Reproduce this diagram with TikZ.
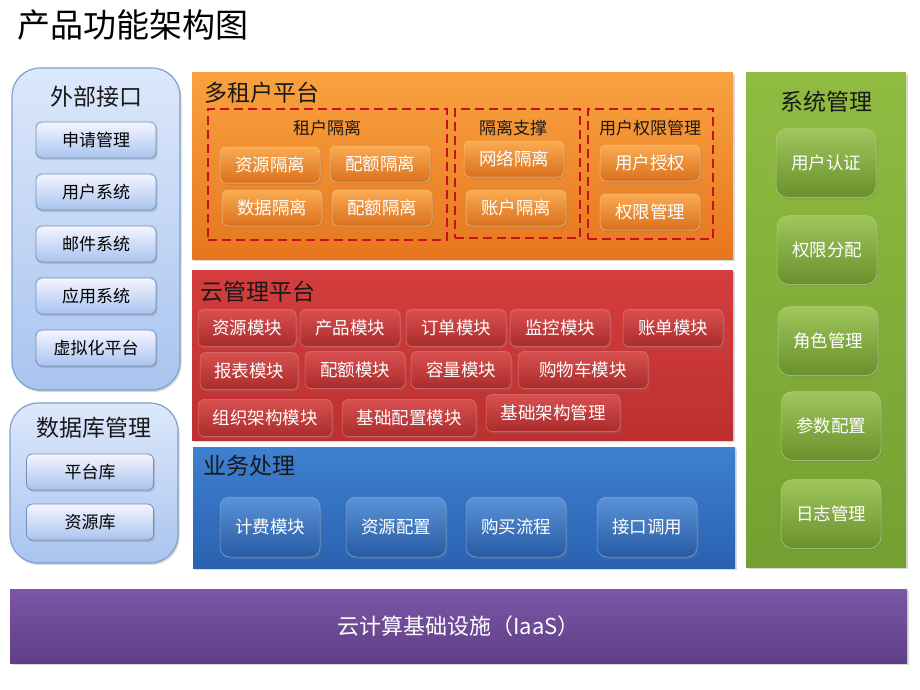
\documentclass[tikz,border=0pt]{standalone}
\usepackage{fontspec}
\setmainfont{Noto Sans CJK SC}
\usepackage{xcolor}
\usepackage{tikz}
\usetikzlibrary{shadows,positioning}

\definecolor{lbTop}{HTML}{DCE8FB}
\definecolor{lbBot}{HTML}{A9C4EF}
\definecolor{lbLine}{HTML}{7F9FCF}
\definecolor{orTop}{HTML}{F9A23F}
\definecolor{orBot}{HTML}{E6761F}
\definecolor{rdTop}{HTML}{D43D3D}
\definecolor{rdBot}{HTML}{BD3030}
\definecolor{buTop}{HTML}{3F80D0}
\definecolor{buBot}{HTML}{2A62B1}
\definecolor{gnTop}{HTML}{8FBC40}
\definecolor{gnBot}{HTML}{74A031}
\definecolor{puTop}{HTML}{7B57A6}
\definecolor{puBot}{HTML}{5E3F85}
\definecolor{dashRed}{HTML}{C8101A}

\begin{document}
\begin{tikzpicture}[x=1pt, y=-1pt,
    every node/.style={inner sep=0pt},
    shade/.style={drop shadow={shadow xshift=1.5pt, shadow yshift=-2pt, opacity=0.3}},
    lbpanel/.style={rounded corners=28pt, draw=lbLine, line width=1.2pt, top color=lbTop, bottom color=lbBot, shade},
    lbbtn/.style={rounded corners=6pt, draw=lbLine!90!black, line width=0.8pt, top color=blue!4!white, bottom color=lbBot, shade,
        minimum height=36pt, font=\fontsize{17}{17}\selectfont},
    bigtitle/.style={font=\fontsize{23}{23}\selectfont, text=black!90},
    subtitle/.style={font=\fontsize{17}{17}\selectfont, text=black!90},
    orbtn/.style={rounded corners=6pt, draw=orTop!70!white, line width=0.5pt, top color=orTop!90!white, bottom color=orBot!95!black, shade,
        text=white, minimum width=100pt, minimum height=36pt, font=\fontsize{17.5}{17.5}\selectfont},
    rdbtn/.style={rounded corners=6pt, draw=rdTop!70!white, line width=0.5pt, top color=rdTop!90!white, bottom color=rdBot!90!black, shade,
        text=white, minimum height=37pt, font=\fontsize{17.5}{17.5}\selectfont},
    bubtn/.style={rounded corners=10pt, draw=buTop!70!white, line width=0.5pt, top color=buTop!85!white, bottom color=buBot!92!black, shade,
        text=white, minimum width=100pt, minimum height=60pt, font=\fontsize{17.5}{17.5}\selectfont},
    gnbtn/.style={rounded corners=12pt, draw=gnTop!70!white, line width=0.5pt, top color=gnTop!85!white, bottom color=gnBot!90!black, shade,
        text=white, minimum width=100pt, minimum height=69pt, font=\fontsize{17.5}{17.5}\selectfont},
    isobox/.style={draw=dashRed, line width=2pt, dash pattern=on 9pt off 5pt}]

    \useasboundingbox (0,0) rectangle (920,690);

    % Title
    \node[anchor=west, font=\fontsize{33}{33}\selectfont] (title) at (17,25) {产品功能架构图};

    % External interface
    \node[lbpanel, minimum width=168pt, minimum height=322pt] (ext) at (96,229) {};
    \node[bigtitle] (extT) at (96,97) {外部接口};
    \foreach \i/\y/\t in {1/140/申请管理, 2/192/用户系统, 3/244/邮件系统, 4/296/应用系统, 5/348/虚拟化平台}
        \node[lbbtn, minimum width=120pt] (ext\i) at (96,\y) {\t};

    % Database management
    \node[lbpanel, minimum width=168pt, minimum height=160pt] (db) at (94,483) {};
    \node[bigtitle] (dbT) at (94,428) {数据库管理};
    \node[lbbtn, minimum width=127pt] (db1) at (90,472) {平台库};
    \node[lbbtn, minimum width=127pt] (db2) at (90,522) {资源库};

    % Multi-tenant platform
    \node[top color=orTop, bottom color=orBot, shade, minimum width=541pt, minimum height=186pt] (mt) at (462.5,166) {};
    \node[bigtitle, anchor=west] (mtT) at (204,93) {多租户平台};
    \node[isobox, minimum width=239pt, minimum height=131pt] (iso) at (327.5,174.5) {};
    \node[subtitle] (isoT) at (327,128) {租户隔离};
    \node[orbtn] (iso1) at (270,165) {资源隔离};
    \node[orbtn] (iso2) at (380,164) {配额隔离};
    \node[orbtn] (iso3) at (272,208) {数据隔离};
    \node[orbtn] (iso4) at (382,208) {配额隔离};
    \node[isobox, minimum width=125pt, minimum height=129pt] (sup) at (517.5,173.5) {};
    \node[subtitle] (supT) at (513,128) {隔离支撑};
    \node[orbtn] (sup1) at (514,159) {网络隔离};
    \node[orbtn] (sup2) at (516,208) {账户隔离};
    \node[isobox, minimum width=125pt, minimum height=130pt] (auth) at (650.5,174) {};
    \node[subtitle] (authT) at (650,128) {用户权限管理};
    \node[orbtn] (auth1) at (650,163) {用户授权};
    \node[orbtn] (auth2) at (650,212) {权限管理};

    % Cloud management platform
    \node[top color=rdTop, bottom color=rdBot, shade, minimum width=541pt, minimum height=170pt] (cm) at (462.5,355) {};
    \node[bigtitle, anchor=west] (cmT) at (200,292) {云管理平台};
    \node[rdbtn, minimum width=98pt] (cm1) at (247,328) {资源模块};
    \node[rdbtn, minimum width=100pt] (cm2) at (350,328) {产品模块};
    \node[rdbtn, minimum width=100pt] (cm3) at (456,328) {订单模块};
    \node[rdbtn, minimum width=100pt] (cm4) at (560,328) {监控模块};
    \node[rdbtn, minimum width=100pt] (cm5) at (673,328) {账单模块};
    \node[rdbtn, minimum width=98pt] (cm6) at (249,371) {报表模块};
    \node[rdbtn, minimum width=100pt] (cm7) at (355,370) {配额模块};
    \node[rdbtn, minimum width=100pt] (cm8) at (461,370) {容量模块};
    \node[rdbtn, minimum width=130pt] (cm9) at (583,370) {购物车模块};
    \node[rdbtn, minimum width=134pt] (cm10) at (265,418) {组织架构模块};
    \node[rdbtn, minimum width=134pt] (cm11) at (409,418) {基础配置模块};
    \node[rdbtn, minimum width=134pt] (cm12) at (553,413) {基础架构管理};

    % Business processing
    \node[top color=buTop, bottom color=buBot, shade, minimum width=542pt, minimum height=121pt] (bp) at (464,507.5) {};
    \node[bigtitle, anchor=west] (bpT) at (203,466) {业务处理};
    \node[bubtn] (bp1) at (270,527) {计费模块};
    \node[bubtn] (bp2) at (396,527) {资源配置};
    \node[bubtn] (bp3) at (516,527) {购买流程};
    \node[bubtn] (bp4) at (647,527) {接口调用};

    % System management
    \node[top color=gnTop, bottom color=gnBot, shade, minimum width=160pt, minimum height=494pt] (sys) at (826,320) {};
    \node[bigtitle] (sysT) at (826,102) {系统管理};
    \node[gnbtn] (sys1) at (826,163) {用户认证};
    \node[gnbtn] (sys2) at (827,250) {权限分配};
    \node[gnbtn] (sys3) at (828,341) {角色管理};
    \node[gnbtn] (sys4) at (831,426) {参数配置};
    \node[gnbtn] (sys5) at (831,514) {日志管理};

    % Infrastructure
    \node[top color=puTop, bottom color=puBot, shade, minimum width=897pt, minimum height=74pt,
        text=white, font=\fontsize{22}{22}\selectfont] (iaas) at (458.5,626) {云计算基础设施（IaaS）};

\end{tikzpicture}
\end{document}
